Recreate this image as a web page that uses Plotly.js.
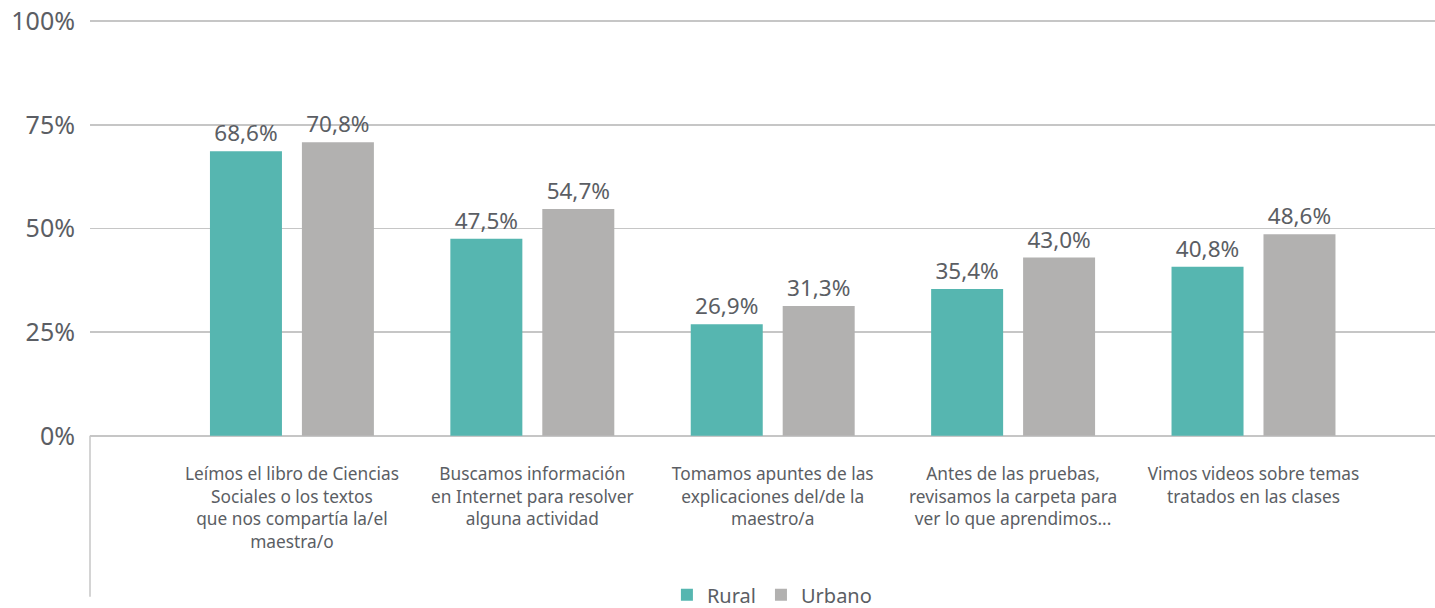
<!DOCTYPE html>
<html><head><meta charset="utf-8">
<script src="https://cdn.plot.ly/plotly-3.0.1.min.js"></script>
<style>html,body{margin:0;padding:0;background:#fff;}#chart{width:1435px;height:608px;}</style>
</head><body><div id="chart"></div>
<script>
const categories = [
  "Leímos el libro de Ciencias<br>Sociales o los textos<br>que nos compartía la/el<br>maestra/o",
  "Buscamos información<br>en Internet para resolver<br>alguna actividad",
  "Tomamos apuntes de las<br>explicaciones del/de la<br>maestro/a",
  "Antes de las pruebas,<br>revisamos la carpeta para<br>ver lo que aprendimos...",
  "Vimos videos sobre temas<br>tratados en las clases"
];
const rural = [68.6, 47.5, 26.9, 35.4, 40.8];
const urbano = [70.8, 54.7, 31.3, 43.0, 48.6];
const yTickVals = [0, 25, 50, 75, 100];
const yTickText = ["0%", "25%", "50%", "75%", "100%"];

const txtColor = "#5b5e64";
const font = "Noto Sans, Open Sans, sans-serif";
const xIdx = categories.map((c, i) => i);

const traces = [
  {type: "bar", name: "Rural", x: xIdx, y: rural, marker: {color: "#56b6b0"},
   texttemplate: "%{y:.1f}%", textposition: "outside", cliponaxis: false,
   textfont: {size: 22.5, color: txtColor, family: font}, showlegend: false, hoverinfo: "none"},
  {type: "bar", name: "Urbano", x: xIdx, y: urbano, marker: {color: "#b2b1b0"},
   texttemplate: "%{y:.1f}%", textposition: "outside", cliponaxis: false,
   textfont: {size: 22.5, color: txtColor, family: font}, showlegend: false, hoverinfo: "none"},
  {type: "scatter", mode: "markers", name: "Rural", x: [null], y: [null],
   marker: {symbol: "square", size: 20, color: "#56b6b0"}},
  {type: "scatter", mode: "markers", name: "Urbano", x: [null], y: [null],
   marker: {symbol: "square", size: 20, color: "#b2b1b0"}}
];

const layout = {
  width: 1435, height: 608,
  margin: {l: 90, r: 0, t: 16.85, b: 167.85, autoexpand: false},
  paper_bgcolor: "#fff", plot_bgcolor: "#fff",
  separators: ",.",
  barmode: "group", bargap: 0.235, bargroupgap: 0.217,
  font: {family: font, color: txtColor},
  xaxis: {
    range: [-0.84, 4.755], tickmode: "array", tickvals: xIdx, ticktext: categories,
    showgrid: false, zeroline: false, showline: false, ticks: "", automargin: false,
    tickfont: {size: 17.3, color: txtColor, family: font}, ticklabelstandoff: 22,
    fixedrange: true
  },
  yaxis: {
    range: [-1, 101], tickmode: "array", tickvals: yTickVals, ticktext: yTickText,
    showgrid: true, gridcolor: "#c6c6c6", gridwidth: 1.5, zeroline: false, showline: false,
    ticks: "", automargin: false, tickfont: {size: 25, color: txtColor, family: font}, ticklabelstandoff: 14,
    fixedrange: true
  },
  shapes: [
    {type: "line", xref: "paper", yref: "paper", x0: 0, x1: 0, y0: 0.0098, y1: -0.3705,
     line: {color: "#c6c6c6", width: 1.5}}
  ],
  legend: {orientation: "h", x: 0.507, xanchor: "center", y: -0.366, yanchor: "middle",
    font: {size: 20, color: txtColor, family: font}, itemsizing: "constant", traceorder: "normal"},
  showlegend: true
};

Plotly.newPlot("chart", traces, layout, {displayModeBar: false, staticPlot: true});
</script>
</body></html>
